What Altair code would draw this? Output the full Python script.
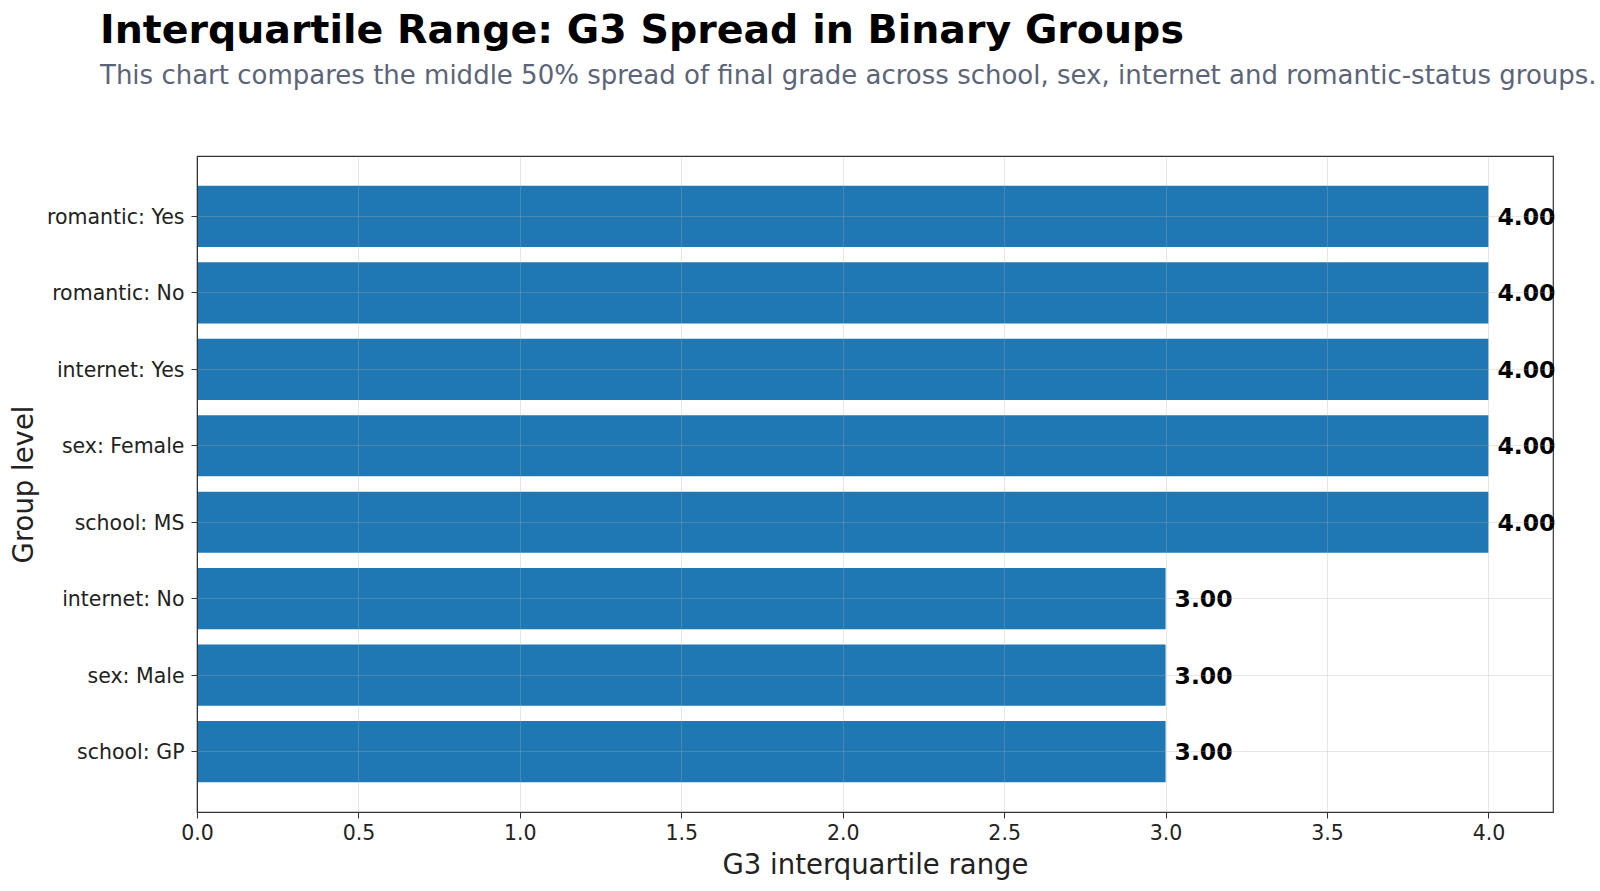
import altair as alt
import pandas as pd

groups = ["romantic: Yes", "romantic: No", "internet: Yes", "sex: Female",
          "school: MS", "internet: No", "sex: Male", "school: GP"]
iqr_values = [4.0, 4.0, 4.0, 4.0, 4.0, 3.0, 3.0, 3.0]
x_ticks = [0.0, 0.5, 1.0, 1.5, 2.0, 2.5, 3.0, 3.5, 4.0]

df = pd.DataFrame({"group": groups, "iqr": iqr_values})
df["label"] = df["iqr"].map(lambda v: f"{v:.2f}")

FONT = "DejaVu Sans"

y_enc = alt.Y(
    "group:N",
    sort=groups,
    title="Group level",
    scale=alt.Scale(paddingInner=0.2, paddingOuter=0.39),
    axis=alt.Axis(
        labelFont=FONT, labelFontSize=20.5, labelColor="#222222",
        titleFont=FONT, titleFontSize=27.5, titleFontWeight="normal", titleColor="#222222",
        titlePadding=8,
        tickSize=6, tickColor="#333333", domainColor="#333333",
        labelPadding=7, labelOffset=1.5,
        grid=True, gridColor="#b0b0b0", gridOpacity=0.3, gridWidth=1,
        zindex=1,
    ),
)

x_enc = alt.X(
    "iqr:Q",
    title="G3 interquartile range",
    scale=alt.Scale(domain=[0, 4.2], nice=False, zero=True),
    axis=alt.Axis(
        values=x_ticks, format=".1f", labelFlush=False,
        labelFont=FONT, labelFontSize=20.5, labelColor="#222222",
        titleFont=FONT, titleFontSize=27.5, titleFontWeight="normal", titleColor="#222222",
        titlePadding=8,
        tickSize=6, tickColor="#333333", domainColor="#333333",
        labelPadding=5,
        grid=True, gridColor="#b0b0b0", gridOpacity=0.3, gridWidth=1,
        zindex=1,
    ),
)

bars = alt.Chart(df).mark_bar(color="#1f77b4").encode(x=x_enc, y=y_enc)

labels = alt.Chart(df).mark_text(
    align="left", baseline="middle", dx=9, dy=1.5, font=FONT, fontSize=23.5,
    fontWeight="bold", color="#000000",
).encode(
    x=alt.X("iqr:Q"),
    y=alt.Y("group:N", sort=groups),
    text="label:N",
)

chart = alt.layer(bars, labels).properties(
    width=1356,
    height=656,
    title=alt.TitleParams(
        text="Interquartile Range: G3 Spread in Binary Groups",
        subtitle="This chart compares the middle 50% spread of final grade across school, sex, internet and romantic-status groups.",
        anchor="start",
        frame="group",
        dx=-97,
        font=FONT, fontSize=39.5, fontWeight="bold", color="#000000",
        subtitleFont=FONT, subtitleFontSize=26, subtitleColor="#5b6478",
        subtitlePadding=12,
        offset=66,
    ),
).configure(
    padding={"left": 197, "top": 156, "right": 47, "bottom": 79},
    autosize=alt.AutoSizeParams(type="none"),
    background="white",
).configure_view(
    stroke="#333333", strokeWidth=1.2,
)

chart.save("out.html", embed_options={"renderer": "svg", "actions": False})
